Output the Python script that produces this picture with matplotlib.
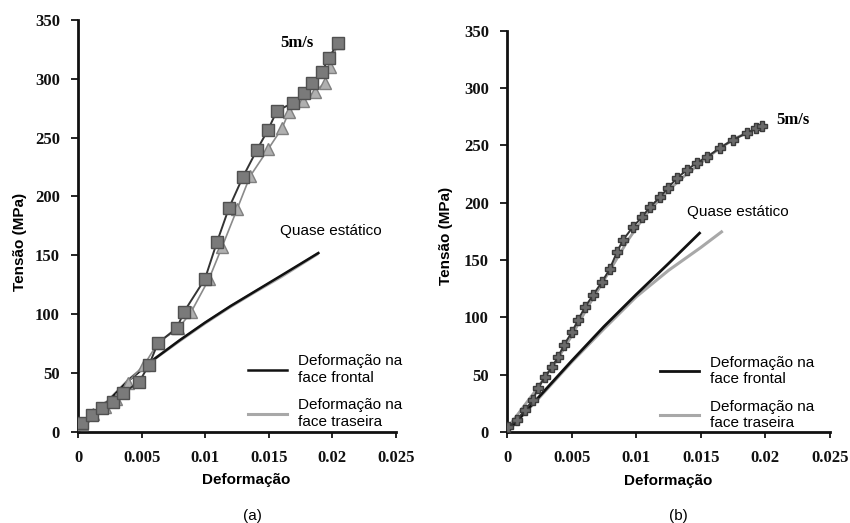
import matplotlib

matplotlib.use("Agg")

import matplotlib.pyplot as plt
from matplotlib.ticker import FixedLocator

# ---- data ----
# (a) 5 m/s, front face (squares)
a_front_x = [0.0003, 0.0011, 0.0019, 0.00275, 0.00354, 0.0048, 0.00558, 0.00629,
             0.00778, 0.00833, 0.00998, 0.01093, 0.01187, 0.01297, 0.01407,
             0.01494, 0.01564, 0.0169, 0.01777, 0.0184, 0.01918, 0.01973, 0.02044]
a_front_y = [7.6, 14.4, 20.4, 25.5, 33.1, 42.5, 56.9, 75.6, 88.4, 102, 130, 161.4,
             190.3, 216.7, 239.6, 256.6, 272.7, 279.5, 288, 296.5, 305.9, 317.8, 330.5]
# (a) 5 m/s, back face (triangles)
a_back_x = [0.0003, 0.0012, 0.0021, 0.0030, 0.0039, 0.0052, 0.0063, 0.0079, 0.0089,
            0.0103, 0.01132, 0.0125, 0.01352, 0.01494, 0.01604, 0.0166, 0.0177,
            0.0186, 0.01942, 0.0198, 0.02044]
a_back_y = [7, 15, 21, 28, 42, 57, 76, 88, 102, 130, 157, 189, 217, 240, 258, 272,
            281, 289, 296.5, 310, 330.5]
# (a) quasi-static
a_qs_front_x = [0, 0.002, 0.004, 0.006, 0.008, 0.010, 0.012, 0.014, 0.016, 0.0189]
a_qs_front_y = [0, 22, 44, 62, 78, 93, 107, 120, 133, 152]
a_qs_back_x = [0, 0.002, 0.004, 0.006, 0.008, 0.010, 0.012, 0.014, 0.016, 0.0188]
a_qs_back_y = [0, 22.5, 44.5, 62, 77.5, 92.5, 106.5, 119.5, 132, 151]

# (b) 5 m/s, front face
b_front_x = [0.00008, 0.00077, 0.00139, 0.00201, 0.0024, 0.00294, 0.00348, 0.00395,
             0.00441, 0.00503, 0.0055, 0.00604, 0.00666, 0.00735, 0.00794, 0.00851,
             0.00898, 0.00975, 0.01045, 0.01107, 0.01184, 0.01246, 0.01316, 0.01393,
             0.0147, 0.01548, 0.01649, 0.0175, 0.01858, 0.0193, 0.01974]
b_front_y = [4.4, 10.5, 19.2, 28, 38.4, 48, 56.7, 65.5, 76, 87.3, 97.8, 109, 119.6,
             131, 142, 157, 167.6, 179, 187.7, 196.4, 205, 213, 221.7, 228.7, 235,
             240, 248, 255, 261, 265, 267.4]
# (b) 5 m/s, back face
b_back_x = [0, 0.0006, 0.0012, 0.0018, 0.0024, 0.003, 0.0036, 0.0042, 0.0049, 0.0056,
            0.0063, 0.007, 0.0078, 0.0086, 0.0094, 0.0102, 0.011, 0.0119, 0.0128,
            0.0138, 0.0148, 0.0158, 0.0168, 0.0178, 0.0188, 0.0198]
b_back_y = [3, 12, 21, 30, 39, 49, 58, 69, 82, 96, 110, 123, 138, 153, 168, 181, 193,
            204, 214, 224, 233, 242, 250, 257, 262, 267]
# (b) quasi-static
b_qs_front_x = [0, 0.0025, 0.005, 0.0075, 0.01, 0.0125, 0.0149]
b_qs_front_y = [0, 31, 62, 92, 120, 147, 173.5]
b_qs_back_x = [0, 0.0025, 0.005, 0.0075, 0.01, 0.0125, 0.014, 0.015, 0.0166]
b_qs_back_y = [0, 30, 61, 90, 118, 141, 153, 161, 174.6]

x_ticks = [0, 0.005, 0.01, 0.015, 0.02, 0.025]
x_tick_labels = ["0", "0.005", "0.01", "0.015", "0.02", "0.025"]
y_ticks = [0, 50, 100, 150, 200, 250, 300, 350]

legend_labels = ["Deformação na\nface frontal", "Deformação na\nface traseira"]

SERIF = ["Liberation Serif", "DejaVu Serif"]
SANS = ["Liberation Sans", "DejaVu Sans"]

LIGHT = "#a8a8a8"


def style_axes(ax):
    ax.set_xlim(0, 0.025)
    ax.set_ylim(0, 350)
    ax.xaxis.set_major_locator(FixedLocator(x_ticks))
    ax.set_xticklabels(x_tick_labels)
    ax.yaxis.set_major_locator(FixedLocator(y_ticks))
    ax.set_yticklabels([str(v) for v in y_ticks])
    for s in ["top", "right"]:
        ax.spines[s].set_visible(False)
    for s in ["left", "bottom"]:
        ax.spines[s].set_linewidth(2.0)
        ax.spines[s].set_color("#111111")
    ax.tick_params(axis="x", direction="out", length=4, width=1.2, pad=9)
    ax.tick_params(axis="y", direction="out", length=5, width=1.2, pad=8)
    for lab in ax.get_xticklabels() + ax.get_yticklabels():
        lab.set_family(SERIF)
        lab.set_fontweight("bold")
        lab.set_fontsize(12)
        lab.set_color("#111111")
    ax.set_xlabel("Deformação", family=SANS, fontweight="bold", fontsize=11)
    ax.set_ylabel("Tensão (MPa)", family=SANS, fontweight="bold", fontsize=11)
    ax.set_facecolor("none")


fig = plt.figure(figsize=(8.5, 5.23), dpi=100)

# ---------------- (a) ----------------
ax1 = fig.add_axes([0.0918, 0.174, 0.374, 0.788])
l_back, = ax1.plot(a_qs_back_x, a_qs_back_y, color=LIGHT, lw=2.2)
l_front, = ax1.plot(a_qs_front_x, a_qs_front_y, color="#111111", lw=1.8)
ax1.plot(a_back_x, a_back_y, color="#8a8a8a", lw=1.2, marker="^", markersize=8,
         markerfacecolor="#b0b0b0", markeredgecolor="#808080", zorder=3)
ax1.plot(a_front_x, a_front_y, color="#333333", lw=1.4, marker="s", markersize=9,
         markerfacecolor="#7a7a7a", markeredgecolor="#505050", zorder=4)
ax1.text(0.0159, 330, "5m/s", family=SERIF, fontweight="bold", fontsize=12,
         va="center", ha="left")
ax1.text(0.0159, 171, "Quase estático", family=SANS, fontsize=11,
         va="center", ha="left")
style_axes(ax1)
ax1.legend([l_front, l_back], legend_labels, loc="lower left",
           bbox_to_anchor=(0.49, -0.025), frameon=False, handlelength=2.6,
           handletextpad=0.7, labelspacing=0.9,
           prop={"family": SANS, "size": 11})
ax1.xaxis.set_label_coords(0.53, -0.1)
ax1.yaxis.set_label_coords(-0.16, 0.46)

# ---------------- (b) ----------------
ax2 = fig.add_axes([0.5965, 0.174, 0.38, 0.767])
m_back, = ax2.plot(b_qs_back_x, b_qs_back_y, color=LIGHT, lw=2.2)
m_front, = ax2.plot(b_qs_front_x, b_qs_front_y, color="#111111", lw=2.0)
ax2.plot(b_back_x, b_back_y, color="#a0a0a0", lw=2.0, zorder=3)
ax2.plot(b_front_x, b_front_y, color="#333333", lw=1.4, marker="P", markersize=7,
         markerfacecolor="#6a6a6a", markeredgecolor="#3a3a3a", zorder=4)
ax2.text(0.0208, 272, "5m/s", family=SERIF, fontweight="bold", fontsize=12,
         va="center", ha="left")
ax2.text(0.0139, 192, "Quase estático", family=SANS, fontsize=11,
         va="center", ha="left")
style_axes(ax2)
ax2.legend([m_front, m_back], legend_labels, loc="lower left",
           bbox_to_anchor=(0.43, -0.03), frameon=False, handlelength=2.6,
           handletextpad=0.7, labelspacing=0.9,
           prop={"family": SANS, "size": 11})
ax2.xaxis.set_label_coords(0.5, -0.105)
ax2.yaxis.set_label_coords(-0.167, 0.49)

fig.text(252 / 850, 1 - 516 / 523, "(a)", family=SANS, fontsize=11,
         ha="center", va="center")
fig.text(678 / 850, 1 - 516 / 523, "(b)", family=SANS, fontsize=11,
         ha="center", va="center")

fig.savefig("out.png", dpi=100)
